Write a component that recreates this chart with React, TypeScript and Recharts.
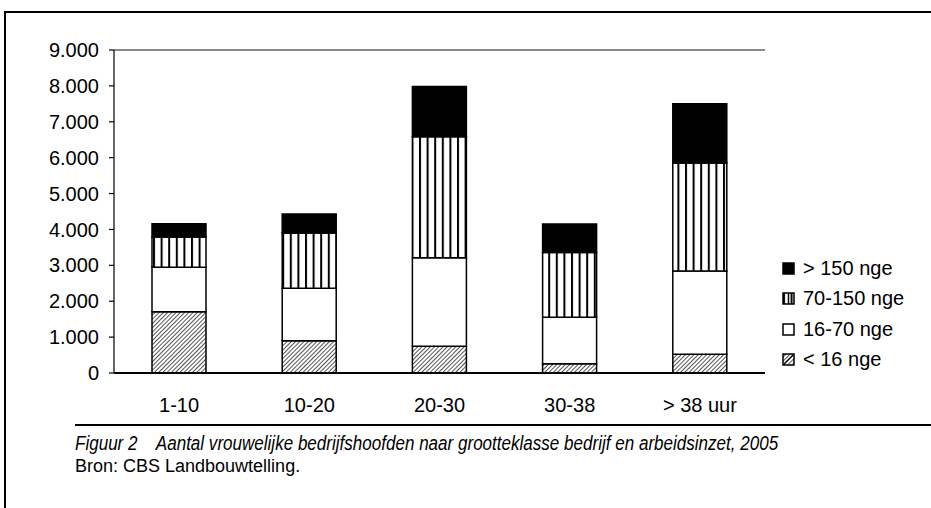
import { BarChart, Bar, XAxis, YAxis, ReferenceLine, Legend } from 'recharts'

const CATEGORIES = ['1-10', '10-20', '20-30', '30-38', '> 38 uur']
const UNDER_16 = [1710, 900, 745, 260, 520]
const FROM_16_TO_70 = [1240, 1460, 2465, 1290, 2320]
const FROM_70_TO_150 = [840, 1540, 3370, 1810, 3010]
const OVER_150 = [370, 530, 1400, 790, 1650]
const Y_TICKS = [0, 1000, 2000, 3000, 4000, 5000, 6000, 7000, 8000, 9000]
const EDGE_TICKS = [0, 1, 2, 3, 4, 5]

// bottom to top of each stack
const SERIES = [
  { key: 'lt16', name: '< 16 nge', fill: 'url(#hatch)' },
  { key: 'n16', name: '16-70 nge', fill: '#ffffff' },
  { key: 'n70', name: '70-150 nge', fill: 'url(#vstripe)' },
  { key: 'gt150', name: '> 150 nge', fill: '#000000' },
]

const data = CATEGORIES.map((name, i) => ({
  name,
  lt16: UNDER_16[i],
  n16: FROM_16_TO_70[i],
  n70: FROM_70_TO_150[i],
  gt150: OVER_150[i],
}))

const FONT = '"Liberation Sans", Arial, sans-serif'

const fmt = (v: number) => String(v).replace(/\B(?=(\d{3})+(?!\d))/g, '.')

function LegendBox() {
  return (
    <div style={{ fontFamily: FONT, fontSize: 20, color: '#000' }}>
      {[...SERIES].reverse().map((s) => (
        <div key={s.key} style={{ display: 'flex', alignItems: 'center', height: 30.5 }}>
          <svg width={13} height={13} style={{ marginRight: 8 }}>
            <rect x={1} y={1} width={11} height={11} fill={s.fill} stroke="#000" strokeWidth={1.5} />
            {s.key === 'n70' && <line x1={6.5} y1={1} x2={6.5} y2={12} stroke="#000" strokeWidth={1.5} />}
            {s.key === 'lt16' && <line x1={2} y1={11} x2={11} y2={2} stroke="#000" strokeWidth={1.2} />}
          </svg>
          <span>{s.name}</span>
        </div>
      ))}
    </div>
  )
}

export default function App() {
  return (
    <div style={{ position: 'relative', width: 931, height: 508, background: '#fff', overflow: 'hidden' }}>
      <style>{'body{margin:0}'}</style>
      {/* page frame */}
      <div style={{ position: 'absolute', left: 4, top: 11, width: 940, height: 520, borderTop: '2px solid #000', borderLeft: '2px solid #000' }} />

      <div style={{ position: 'absolute', left: 0, top: 0 }}>
        <BarChart
          width={931}
          height={440}
          data={data}
          margin={{ top: 50, right: 166, left: 0, bottom: 0 }}
          style={{ fontFamily: FONT }}
        >
          <defs>
            <pattern id="hatch" width={3} height={3} patternUnits="userSpaceOnUse" patternTransform="rotate(45)">
              <rect width={3} height={3} fill="#fff" />
              <line x1={0.5} y1={0} x2={0.5} y2={3} stroke="#555" strokeWidth={1} />
            </pattern>
            <pattern id="vstripe" width={7.6} height={10} patternUnits="userSpaceOnUse" x={1}>
              <rect width={7.6} height={10} fill="#fff" />
              <rect x={0} y={0} width={2} height={10} fill="#000" />
            </pattern>
          </defs>
          <XAxis
            xAxisId="edge"
            type="number"
            domain={[0, 5]}
            ticks={EDGE_TICKS}
            height={0}
            axisLine={false}
            tickLine={{ stroke: '#000', strokeWidth: 1.2 }}
            tickSize={6}
            tick={false}
          />
          <XAxis
            xAxisId="cat"
            dataKey="name"
            height={67}
            axisLine={{ stroke: '#000', strokeWidth: 2 }}
            tickLine={false}
            tickMargin={19}
            tick={{ fill: '#000', fontSize: 20 }}
            interval={0}
          />
          <YAxis
            width={114}
            domain={[0, 9000]}
            ticks={Y_TICKS}
            tickFormatter={fmt}
            axisLine={{ stroke: '#000', strokeWidth: 1.2 }}
            tickLine={{ stroke: '#000', strokeWidth: 1.2 }}
            tickSize={5}
            tickMargin={10}
            tick={{ fill: '#000', fontSize: 20 }}
            interval={0}
          />
          <ReferenceLine xAxisId="cat" y={9000} stroke="#8a8a8a" strokeWidth={2} />
          <ReferenceLine xAxisId="edge" x={5} stroke="#8a8a8a" strokeWidth={2} />
          {SERIES.map((s) => (
            <Bar
              key={s.key}
              xAxisId="cat"
              dataKey={s.key}
              name={s.name}
              stackId="a"
              fill={s.fill}
              stroke="#000"
              strokeWidth={1.5}
              barSize={54}
              isAnimationActive={false}
            />
          ))}
          <Legend
            layout="vertical"
            align="center"
            verticalAlign="middle"
            content={() => <LegendBox />}
            wrapperStyle={{ left: 782, top: 253, width: 'auto' }}
          />
        </BarChart>
      </div>

      {/* caption */}
      <div style={{ position: 'absolute', left: 75, top: 424, width: 860, borderTop: '2px solid #000' }} />
      <div
        style={{
          position: 'absolute',
          left: 75,
          top: 432,
          fontFamily: FONT,
          lineHeight: '23px',
          color: '#000',
          whiteSpace: 'pre',
        }}
      >
        <div style={{ fontStyle: 'italic', fontSize: 20, transform: 'scaleX(0.852)', transformOrigin: 'left center' }}>
          {'Figuur 2    Aantal vrouwelijke bedrijfshoofden naar grootteklasse bedrijf en arbeidsinzet, 2005'}
        </div>
        <div style={{ fontSize: 18 }}>Bron: CBS Landbouwtelling.</div>
      </div>
    </div>
  )
}
